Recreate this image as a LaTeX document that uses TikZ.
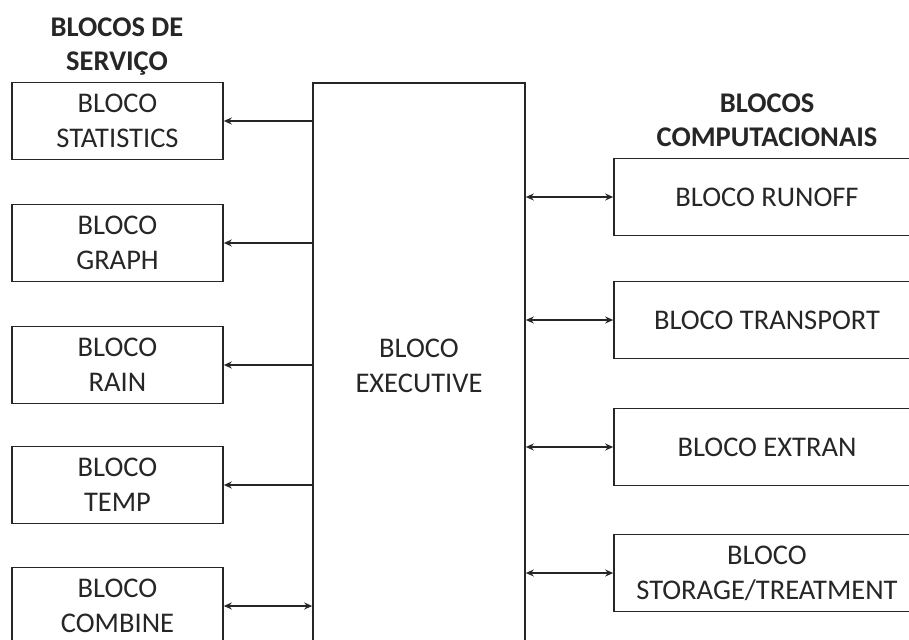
\documentclass[tikz,border=0pt]{standalone}
\usepackage{fontspec}
\setmainfont{Carlito}
\usetikzlibrary{arrows.meta}
\begin{document}
\begin{tikzpicture}[x=1pt,y=1pt,
  every node/.style={font=\fontsize{28.5}{35}\selectfont, text=black!85},
  blk/.style={draw=black!85, line width=1.6pt, minimum width=211pt, minimum height=77pt, align=center, inner sep=0pt},
  rblk/.style={blk, minimum width=306pt},
  exe/.style={blk, minimum width=212pt, minimum height=565pt},
  hdr/.style={font=\fontsize{28.5}{34}\selectfont\bfseries, align=center},
  con/.style={line width=1.6pt, draw=black!85},
  tip/.style={-{Stealth[length=8pt,width=7pt]}},
  dtip/.style={{Stealth[length=8pt,width=7pt]}-{Stealth[length=8pt,width=7pt]}}]
\useasboundingbox (0,0) rectangle (909,-639);
\clip (0,0) rectangle (909,-639);
\node[hdr] (h1) at (117,-47) {BLOCOS DE\\SERVIÇO};
\node[hdr] (h2) at (767,-120) {BLOCOS\\COMPUTACIONAIS};
\node[exe] (ex) at (419,-365.5) {BLOCO\\EXECUTIVE};
\node[blk] (s1) at (117.5,-121) {BLOCO\\STATISTICS};
\node[blk] (s2) at (117.5,-243) {BLOCO\\GRAPH};
\node[blk] (s3) at (117.5,-365) {BLOCO\\RAIN};
\node[blk] (s4) at (117.5,-485) {BLOCO\\TEMP};
\node[blk] (s5) at (117.5,-606) {BLOCO\\COMBINE};
\node[rblk] (c1) at (767,-197) {BLOCO RUNOFF};
\node[rblk] (c2) at (767,-320) {BLOCO TRANSPORT};
\node[rblk] (c3) at (767,-447) {BLOCO EXTRAN};
\node[rblk] (c4) at (767,-573) {BLOCO\\STORAGE/TREATMENT};
\draw[con,tip] (ex.west |- s1.east) -- (s1.east);
\draw[con,tip] (ex.west |- s2.east) -- (s2.east);
\draw[con,tip] (ex.west |- s3.east) -- (s3.east);
\draw[con,tip] (ex.west |- s4.east) -- (s4.east);
\draw[con,dtip] (ex.west |- s5.east) -- (s5.east);
\draw[con,dtip] (ex.east |- c1.west) -- (c1.west);
\draw[con,dtip] (ex.east |- c2.west) -- (c2.west);
\draw[con,dtip] (ex.east |- c3.west) -- (c3.west);
\draw[con,dtip] (ex.east |- c4.west) -- (c4.west);
\end{tikzpicture}
\end{document}
